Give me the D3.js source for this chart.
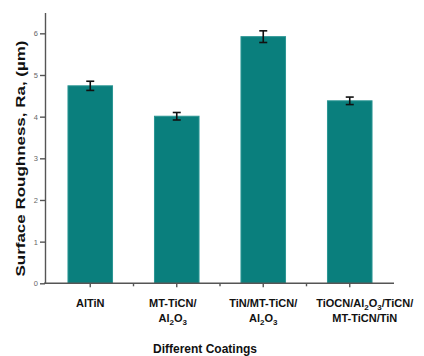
<!doctype html>
<html lang="en">
<head>
  <meta charset="utf-8">
  <title>Surface Roughness by Coating</title>
  <style>
    body { margin: 0; background: #fff; }
    svg { display: block; font-family: "Liberation Sans", Arial, sans-serif; }
    .bar { fill: #0a7f7d; stroke: #2a9593; stroke-width: 1; }
    .err { stroke: #111; stroke-width: 1.6; fill: none; }
    .axis path, .axis line { stroke: #555; stroke-width: 1.4; }
    .y-axis text { fill: #666; font-size: 7.5px; }
    .xlab { font-size: 11px; font-weight: bold; fill: #111; text-anchor: middle; }
    .title { font-weight: bold; fill: #111; }
  </style>
</head>
<body>
  <div id="chart"></div>
  <script src="https://d3js.org/d3.v7.min.js"></script>
  <script>
// data
const coatings = ['AlTiN', 'MT-TiCN/Al2O3', 'TiN/MT-TiCN/Al2O3', 'TiOCN/Al2O3/TiCN/MT-TiCN/TiN'];
const labelLine1 = ['AlTiN', 'MT-TiCN/', 'TiN/MT-TiCN/', 'TiOCN/Al2O3/TiCN/'];
const labelLine2 = ['', 'Al2O3', 'Al2O3', 'MT-TiCN/TiN'];
const roughness = [4.74, 4.01, 5.92, 4.38];
const roughnessErr = [0.11, 0.09, 0.14, 0.09];
const yTicks = [0, 1, 2, 3, 4, 5, 6];

const width = 424, height = 356;
// small horizontal nudges of the category labels, as in the original figure
const labelShift = [0, -4, 0, 15];

const svg = d3.select('#chart')
  .append('svg')
  .attr('width', width)
  .attr('height', height);

const x = d3.scaleBand()
  .domain(coatings)
  .range([47, 393])
  .paddingInner(0.485)
  .paddingOuter(0.2425);

const y = d3.scaleLinear()
  .domain([0, 6.5])
  .range([283.3, 12.5]);

// bars
svg.append('g')
  .selectAll('rect')
  .data(coatings)
  .join('rect')
  .attr('class', 'bar')
  .attr('x', d => x(d))
  .attr('width', x.bandwidth())
  .attr('y', (d, i) => y(roughness[i]))
  .attr('height', (d, i) => y(0) - y(roughness[i]));

// error bars
const errs = svg.append('g')
  .selectAll('g')
  .data(coatings)
  .join('g')
  .attr('class', 'err')
  .attr('transform', d => 'translate(' + (x(d) + x.bandwidth() / 2) + ',0)');

errs.append('line')
  .attr('y1', (d, i) => y(roughness[i] + roughnessErr[i]))
  .attr('y2', (d, i) => y(roughness[i] - roughnessErr[i]));
errs.append('line')
  .attr('x1', -4).attr('x2', 4)
  .attr('y1', (d, i) => y(roughness[i] + roughnessErr[i]))
  .attr('y2', (d, i) => y(roughness[i] + roughnessErr[i]));
errs.append('line')
  .attr('x1', -4).attr('x2', 4)
  .attr('y1', (d, i) => y(roughness[i] - roughnessErr[i]))
  .attr('y2', (d, i) => y(roughness[i] - roughnessErr[i]));

// y axis
svg.append('g')
  .attr('class', 'axis y-axis')
  .attr('transform', 'translate(45,0)')
  .call(d3.axisLeft(y).tickValues(yTicks).tickFormat(d3.format('d'))
    .tickSize(5).tickSizeOuter(0).tickPadding(2));

// x axis: ticks at bar centres and between bars
const xAxis = svg.append('g')
  .attr('class', 'axis x-axis')
  .attr('transform', 'translate(0,' + y(0) + ')');
xAxis.append('line')
  .attr('x1', 44).attr('x2', 394);
xAxis.selectAll('line.tk')
  .data(coatings)
  .join('line')
  .attr('class', 'tk')
  .attr('x1', d => x(d) + x.bandwidth() / 2)
  .attr('x2', d => x(d) + x.bandwidth() / 2)
  .attr('y2', 4);
xAxis.selectAll('line.mn')
  .data(coatings.slice(1))
  .join('line')
  .attr('class', 'mn')
  .attr('x1', d => x(d) - x.step() * x.paddingInner() / 2)
  .attr('x2', d => x(d) - x.step() * x.paddingInner() / 2)
  .attr('y2', 3);

// category labels with chemical subscripts
function writeFormula(sel, str) {
  str.split(/(\d)/).forEach(part => {
    if (part === '') return;
    if (/\d/.test(part)) {
      sel.append('tspan').attr('font-size', '8px').attr('dy', 3).text(part);
    } else {
      const t = sel.append('tspan').text(part);
      if (sel.selectAll('tspan').size() > 1) t.attr('dy', -3);
    }
  });
}

coatings.forEach((c, i) => {
  const cx = x(c) + x.bandwidth() / 2 + labelShift[i];
  [labelLine1[i], labelLine2[i]].forEach((line, j) => {
    if (!line) return;
    const t = svg.append('text')
      .attr('class', 'xlab')
      .attr('x', cx)
      .attr('y', 307 + j * 15);
    writeFormula(t, line);
  });
});

// axis titles
svg.append('text')
  .attr('class', 'title')
  .attr('x', 205)
  .attr('y', 353)
  .attr('text-anchor', 'middle')
  .attr('font-size', '12px')
  .text('Different Coatings');

svg.append('text')
  .attr('class', 'title')
  .attr('transform', 'translate(25,158.5) rotate(-90)')
  .attr('text-anchor', 'middle')
  .attr('font-size', '12.5px')
  .attr('textLength', 236)
  .attr('lengthAdjust', 'spacingAndGlyphs')
  .text('Surface Roughness, Ra, (µm)');
  </script>
</body>
</html>
